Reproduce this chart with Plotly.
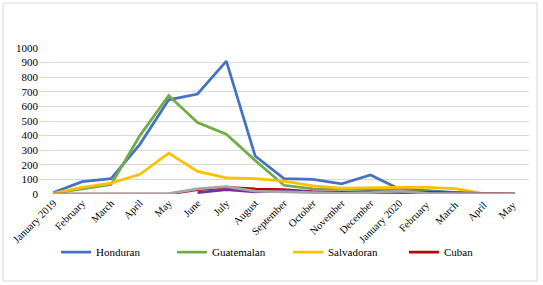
import plotly.graph_objects as go

months = ["January 2019", "February", "March", "April", "May", "June", "July", "August",
          "September", "October", "November", "December", "January 2020", "February ",
          "March ", "April ", "May "]
honduran = [10, 85, 105, 340, 645, 685, 910, 260, 105, 100, 70, 130, 35, 20, 10, 0, 0]
guatemalan = [5, 35, 65, 400, 675, 490, 410, 230, 60, 35, 30, 30, 30, 15, 10, 0, 0]
salvadoran = [5, 45, 75, 135, 280, 155, 110, 105, 88, 55, 40, 45, 45, 45, 35, 0, 0]
cuban = [0, 0, 0, 0, 0, 30, 45, 35, 30, 15, 10, 10, 15, 10, 5, 0, 0]
other1 = [None, None, None, None, None, 10, 30, 15, 25, 15, 10, 15, 10, 5, 0, 0, 0]
other2 = [0, 0, 0, 5, 2, 35, 50, 20, 15, 5, 5, 10, 20, 5, 5, 0, 0]
yticks = [0, 100, 200, 300, 400, 500, 600, 700, 800, 900, 1000]

series = [
    ("Honduran", honduran, "#4472C4", True),
    ("Guatemalan", guatemalan, "#70AD47", True),
    ("Salvadoran", salvadoran, "#FFC000", True),
    ("Cuban", cuban, "#C00000", True),
    ("Other 1", other1, "#7030A0", False),
    ("Other 2", other2, "#A5A5A5", False),
]

fig = go.Figure()
for name, vals, color, show in series:
    fig.add_trace(go.Scatter(x=months, y=vals, name=name, mode="lines",
                             line=dict(color=color, width=2.75), showlegend=show))

L, R, T, B = 39, 14, 48, 91
W, H = 543, 285
pw, ph = W - L - R, H - T - B

fig.update_layout(
    width=W, height=H,
    margin=dict(l=L, r=R, t=T, b=B, autoexpand=False),
    paper_bgcolor="white", plot_bgcolor="white",
    font=dict(family="Liberation Serif", size=11, color="#000000"),
    xaxis=dict(type="category", tickangle=-45, showgrid=False, zeroline=False,
               showline=False, ticks="", tickfont=dict(size=10.5),
               range=[-0.5, len(months) - 0.5], automargin=False),
    yaxis=dict(range=[0, 1000], tickvals=yticks, showgrid=True, gridcolor="#D9D9D9",
               gridwidth=1, zeroline=False, showline=False, ticks="",
               tickfont=dict(size=11), automargin=False),
    legend=dict(orientation="h", x=(56 - L) / pw, xanchor="left", y=(194 - 252) / ph,
                yanchor="middle", font=dict(size=11), entrywidth=71,
                itemwidth=30, bgcolor="rgba(0,0,0,0)"),
    shapes=[dict(type="rect", xref="paper", yref="paper",
                 x0=(3 - L) / pw, x1=(537 - L) / pw,
                 y0=(H - B - 281) / ph, y1=(H - B - 3) / ph,
                 line=dict(color="#D9D9D9", width=1), layer="below")],
)

fig.write_html("out.html", config={"displayModeBar": False},
               post_script="document.body.style.margin='0';document.body.style.overflow='hidden';")
